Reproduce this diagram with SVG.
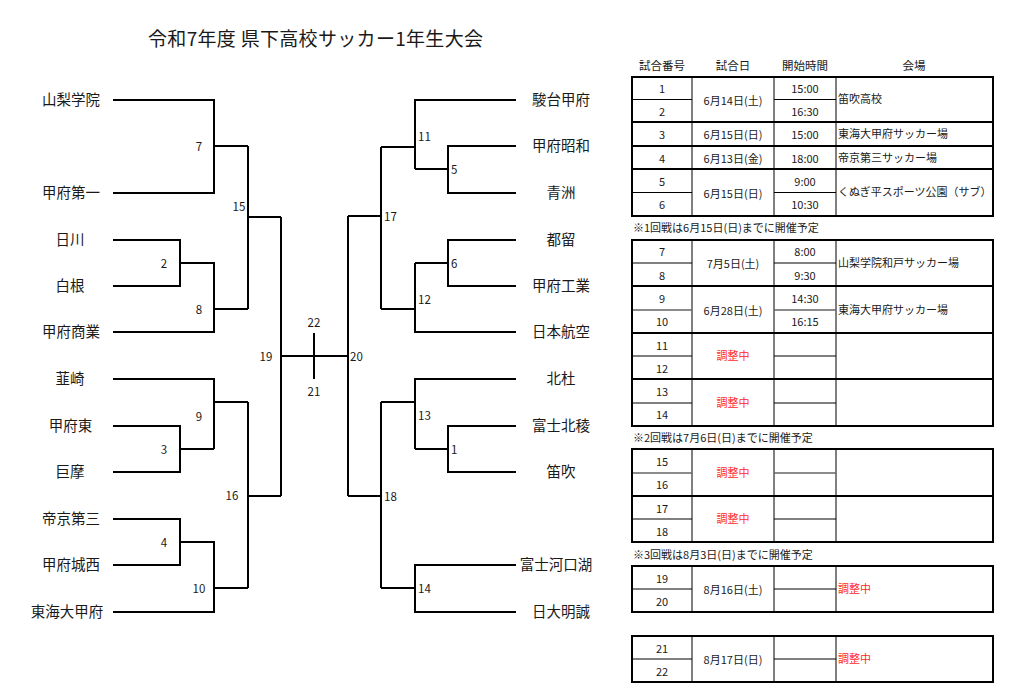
<svg xmlns="http://www.w3.org/2000/svg" width="1024" height="685" viewBox="0 0 1024 685">
<style>
text{font-family:"Noto Sans CJK JP","Noto Sans",sans-serif;fill:#1a1a1a}
.title{font-size:19px}
.team{font-size:14.5px;text-anchor:middle;dominant-baseline:central}
.mn{font-size:11.5px;dominant-baseline:central}
.mnl{text-anchor:middle}
.ln{fill:none;stroke:#000;stroke-width:2}
.th{font-size:11.5px;text-anchor:middle;dominant-baseline:central}
.tc{font-size:11px;text-anchor:middle;dominant-baseline:central}
.tl{font-size:11px;dominant-baseline:central}
.red{fill:#ff2a2a}
.note{font-size:11px;dominant-baseline:central}
.ob{fill:none;stroke:#000;stroke-width:2}
.ib{fill:none;stroke:#000;stroke-width:1}
.gb{fill:none;stroke:#666;stroke-width:1.3}
</style>
<rect width="1024" height="685" fill="#fff"/>
<text class="title" x="148" y="46" textLength="335" lengthAdjust="spacing">令和7年度 県下高校サッカー1年生大会</text>

<g id="connectors" class="ln">
<path d="M113 100H214V193H113"/>
<path d="M214 146H248"/>
<path d="M113 240H180V286H113"/>
<path d="M180 263H214V332H113"/>
<path d="M214 309H248"/>
<path d="M248 146V309"/>
<path d="M248 217H281"/>
<path d="M113 379H214V449"/>
<path d="M113 426H180V472H113"/>
<path d="M180 449H214"/>
<path d="M214 402H248"/>
<path d="M113 519H180V565H113"/>
<path d="M180 542H214V612H113"/>
<path d="M214 588H248"/>
<path d="M248 402V588"/>
<path d="M248 496H281"/>
<path d="M281 217V496"/>
<path d="M281 356H348"/>
<path d="M314 333V379"/>
<path d="M348 216V496"/>
<path d="M348 216H381"/>
<path d="M381 147V309"/>
<path d="M381 147H415"/>
<path d="M516 100H415V169"/>
<path d="M415 169H448"/>
<path d="M516 146H448V193H516"/>
<path d="M381 309H415"/>
<path d="M415 263V332H516"/>
<path d="M415 263H448"/>
<path d="M516 240H448V286H516"/>
<path d="M348 496H381"/>
<path d="M381 402V588"/>
<path d="M381 402H415"/>
<path d="M516 379H415V449"/>
<path d="M415 449H448"/>
<path d="M516 426H448V472H516"/>
<path d="M381 588H415"/>
<path d="M516 565H415V612H516"/>
</g>

<g id="teams" transform="translate(0,-1.5)">
<g id="team-yamanashigakuin"><text class="team" x="71" y="100">山梨学院</text></g>
<g id="team-koufudaiichi"><text class="team" x="71" y="193">甲府第一</text></g>
<g id="team-nichikawa"><text class="team" x="70" y="240">日川</text></g>
<g id="team-shirane"><text class="team" x="70" y="286">白根</text></g>
<g id="team-koufushougyou"><text class="team" x="71" y="332">甲府商業</text></g>
<g id="team-nirasaki"><text class="team" x="70" y="379">韮崎</text></g>
<g id="team-koufuhigashi"><text class="team" x="70.5" y="426">甲府東</text></g>
<g id="team-koma"><text class="team" x="70" y="472">巨摩</text></g>
<g id="team-teikyodaisan"><text class="team" x="71" y="519">帝京第三</text></g>
<g id="team-koufujousai"><text class="team" x="71" y="565">甲府城西</text></g>
<g id="team-tokaidaikoufu"><text class="team" x="67" y="612">東海大甲府</text></g>

<g id="team-sundaikoufu"><text class="team" x="561" y="100">駿台甲府</text></g>
<g id="team-koufushouwa"><text class="team" x="561" y="146">甲府昭和</text></g>
<g id="team-seishu"><text class="team" x="561" y="193">青洲</text></g>
<g id="team-tsuru"><text class="team" x="561" y="240">都留</text></g>
<g id="team-koufukougyou"><text class="team" x="561" y="286">甲府工業</text></g>
<g id="team-nihonkoukuu"><text class="team" x="561" y="332">日本航空</text></g>
<g id="team-hokuto"><text class="team" x="561" y="379">北杜</text></g>
<g id="team-fujihokuryou"><text class="team" x="561" y="426">富士北稜</text></g>
<g id="team-fuefuki"><text class="team" x="561" y="472">笛吹</text></g>
<g id="team-fujikawaguchiko"><text class="team" x="556" y="565">富士河口湖</text></g>
<g id="team-nichidaimeisei"><text class="team" x="561" y="612">日大明誠</text></g>
</g>

<g id="match-7"><text class="mn mnl" x="199" y="146">7</text></g>
<g id="match-2"><text class="mn mnl" x="164" y="263">2</text></g>
<g id="match-8"><text class="mn mnl" x="199" y="309">8</text></g>
<g id="match-15"><text class="mn mnl" x="239" y="206">15</text></g>
<g id="match-9"><text class="mn mnl" x="199" y="416">9</text></g>
<g id="match-3"><text class="mn mnl" x="164" y="449">3</text></g>
<g id="match-4"><text class="mn mnl" x="164" y="542">4</text></g>
<g id="match-10"><text class="mn mnl" x="199" y="588">10</text></g>
<g id="match-16"><text class="mn mnl" x="232" y="495">16</text></g>
<g id="match-19"><text class="mn mnl" x="266" y="356">19</text></g>
<g id="match-22"><text class="mn mnl" x="314" y="322">22</text></g>
<g id="match-21"><text class="mn mnl" x="314" y="391">21</text></g>
<g id="match-20"><text class="mn" x="350" y="356">20</text></g>
<g id="match-17"><text class="mn" x="384" y="216">17</text></g>
<g id="match-11"><text class="mn" x="418" y="136">11</text></g>
<g id="match-5"><text class="mn" x="451" y="169">5</text></g>
<g id="match-6"><text class="mn" x="451" y="263">6</text></g>
<g id="match-12"><text class="mn" x="418" y="299">12</text></g>
<g id="match-13"><text class="mn" x="418" y="415">13</text></g>
<g id="match-1"><text class="mn" x="451" y="449">1</text></g>
<g id="match-18"><text class="mn" x="384" y="496">18</text></g>
<g id="match-14"><text class="mn" x="418" y="588">14</text></g>

<g id="schedule-table">
<text class="th" x="662" y="65">試合番号</text>
<text class="th" x="733" y="65">試合日</text>
<text class="th" x="805" y="65">開始時間</text>
<text class="th" x="914" y="65">会場</text>

<path class="ib" d="M692 77V216M774 77V216M836 77V216"/>
<path class="ib" d="M632 99.5H692M774 99.5H836M632 192.5H692M774 192.5H836"/>
<path class="ob" d="M632 122H993M632 146H993M632 169H993"/>
<rect class="ob" x="632" y="77" width="361" height="139"/>
<text class="tc" x="662" y="88">1</text>
<text class="tc" x="662" y="111">2</text>
<text class="tc" x="733" y="99.5">6月14日(土)</text>
<text class="tc" x="805" y="88">15:00</text>
<text class="tc" x="805" y="111">16:30</text>
<text class="tl" x="838" y="98">笛吹高校</text>
<text class="tc" x="662" y="134">3</text>
<text class="tc" x="733" y="134">6月15日(日)</text>
<text class="tc" x="805" y="134">15:00</text>
<text class="tl" x="838" y="133">東海大甲府サッカー場</text>
<text class="tc" x="662" y="157.5">4</text>
<text class="tc" x="733" y="157.5">6月13日(金)</text>
<text class="tc" x="805" y="157.5">18:00</text>
<text class="tl" x="838" y="157">帝京第三サッカー場</text>
<text class="tc" x="662" y="181">5</text>
<text class="tc" x="662" y="204">6</text>
<text class="tc" x="733" y="192.5">6月15日(日)</text>
<text class="tc" x="805" y="181">9:00</text>
<text class="tc" x="805" y="204">10:30</text>
<text class="tl" x="838" y="191">くぬぎ平スポーツ公園（サブ）</text>
<text class="note" x="633" y="227">※1回戦は6月15日(日)までに開催予定</text>

<path class="ib" d="M692 240V426M774 240V426M836 240V426"/>
<path class="ib" d="M632 263H692M774 263H836M632 356H692M774 356H836M632 403H692M774 403H836"/>
<path class="gb" d="M632 310H692M774 310H836"/>
<path class="ob" d="M632 286H993M632 333H993M632 379H993"/>
<rect class="ob" x="632" y="240" width="361" height="186"/>
<text class="tc" x="662" y="251">7</text>
<text class="tc" x="662" y="274.5">8</text>
<text class="tc" x="733" y="263">7月5日(土)</text>
<text class="tc" x="805" y="251">8:00</text>
<text class="tc" x="805" y="274.5">9:30</text>
<text class="tl" x="838" y="262">山梨学院和戸サッカー場</text>
<text class="tc" x="662" y="298">9</text>
<text class="tc" x="662" y="321">10</text>
<text class="tc" x="733" y="309.5">6月28日(土)</text>
<text class="tc" x="805" y="298">14:30</text>
<text class="tc" x="805" y="321">16:15</text>
<text class="tl" x="838" y="308.5">東海大甲府サッカー場</text>
<text class="tc" x="662" y="344.5">11</text>
<text class="tc" x="662" y="367.5">12</text>
<text class="tc red" x="733" y="355">調整中</text>
<text class="tc" x="662" y="391">13</text>
<text class="tc" x="662" y="414">14</text>
<text class="tc red" x="733" y="401.5">調整中</text>
<text class="note" x="633" y="437">※2回戦は7月6日(日)までに開催予定</text>

<path class="ib" d="M692 449V542M774 449V542M836 449V542"/>
<path class="ib" d="M632 519H692M774 519H836"/>
<path class="gb" d="M632 473H692M774 473H836"/>
<path class="ob" d="M632 496H993"/>
<rect class="ob" x="632" y="449" width="361" height="93"/>
<text class="tc" x="662" y="461">15</text>
<text class="tc" x="662" y="484">16</text>
<text class="tc red" x="733" y="471.5">調整中</text>
<text class="tc" x="662" y="507.5">17</text>
<text class="tc" x="662" y="530.5">18</text>
<text class="tc red" x="733" y="518">調整中</text>
<text class="note" x="633" y="554">※3回戦は8月3日(日)までに開催予定</text>

<path class="ib" d="M692 566V612M774 566V612M836 566V612"/>
<path class="ib" d="M632 589H692M774 589H836"/>
<rect class="ob" x="632" y="566" width="361" height="46"/>
<text class="tc" x="662" y="577.5">19</text>
<text class="tc" x="662" y="600.5">20</text>
<text class="tc" x="733" y="589">8月16日(土)</text>
<text class="tl red" x="838" y="587.5">調整中</text>

<path class="ib" d="M692 636V682M774 636V682M836 636V682"/>
<path class="ib" d="M632 659H692M774 659H836"/>
<rect class="ob" x="632" y="636" width="361" height="46"/>
<text class="tc" x="662" y="647.5">21</text>
<text class="tc" x="662" y="670.5">22</text>
<text class="tc" x="733" y="659">8月17日(日)</text>
<text class="tl red" x="838" y="657.5">調整中</text>
</g>
</svg>
